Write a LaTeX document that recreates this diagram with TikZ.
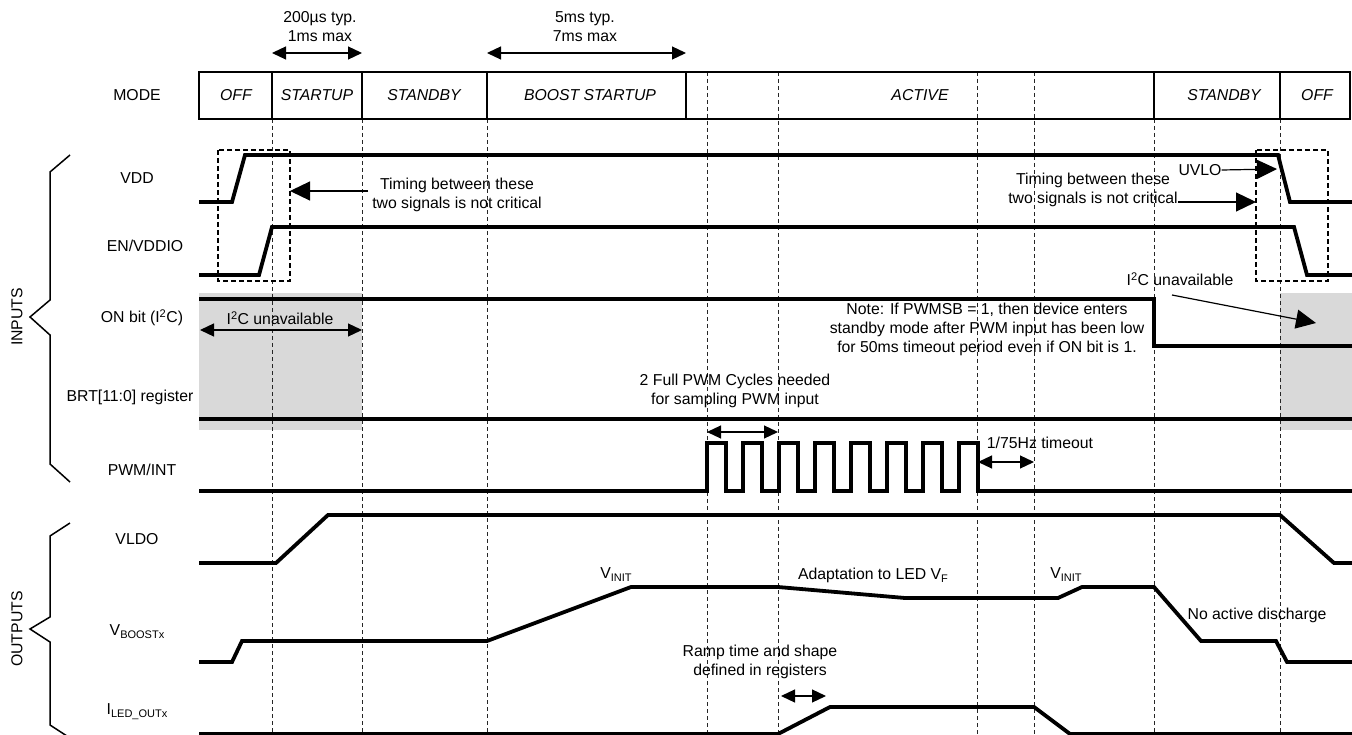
\documentclass[tikz,border=0pt]{standalone}
\usepackage{fontspec}
\setmainfont{Liberation Sans}
\usetikzlibrary{arrows.meta}
\definecolor{i2cgray}{RGB}{217,217,217}
\newcommand{\lowtext}[1]{\raisebox{-3pt}{\fontsize{11}{11}\selectfont #1}}
\tikzset{
  sig/.style={line width=3.8pt, line join=miter},
  grid/.style={line width=0.8pt, dash pattern=on 4pt off 3pt, black!85},
  modebox/.style={line width=2.5pt},
  dotbox/.style={line width=2.5pt, dash pattern=on 5pt off 3pt},
  brace/.style={line width=1.5pt},
  dim/.style={{Triangle[length=14pt,width=13pt]}-{Triangle[length=14pt,width=13pt]}, line width=1.2pt},
  callout/.style={-{Triangle[length=20pt,width=19pt]}, line width=1.2pt},
  lbl/.style={align=center, inner sep=0pt},
  modelbl/.style={inner sep=0pt, font=\fontsize{15.8}{19}\selectfont\itshape}
}
\begin{document}
\begin{tikzpicture}[x=1pt, y=-1pt, font=\fontsize{15.8}{19}\selectfont]
\useasboundingbox (0,0) rectangle (1352,735);
% I2C unavailable areas
\fill[i2cgray] (199,293) rectangle (362,430);
\fill[i2cgray] (1280,293) rectangle (1352,430);
% Time marks
\foreach \x in {272,362,487,1154,1280}
  \draw[grid] (\x,119) -- (\x,735);
\foreach \x in {707,778,977,1034}
  \draw[grid] (\x,72) -- (\x,735);
% Mode row
\draw[modebox] (199,72) rectangle (1350,119);
\foreach \x in {272,362,487,686,1154,1280}
  \draw[modebox] (\x,72) -- (\x,119);
\node[lbl] (mode) at (137,95) {MODE};
\node[modelbl] (off1) at (236,95) {OFF};
\node[modelbl] (startup) at (317,95) {STARTUP};
\node[modelbl] (standby1) at (424,95) {STANDBY};
\node[modelbl] (boost) at (590,95) {BOOST STARTUP};
\node[modelbl] (active) at (920,95) {ACTIVE};
\node[modelbl] (standby2) at (1224,95) {STANDBY};
\node[modelbl] (off2) at (1317,95) {OFF};
% Startup times
\node[lbl] (tstart) at (320,27) {200µs typ.\\1ms max};
\draw[dim] (272,53) -- (362,53);
\node[lbl] (tboost) at (585,27) {5ms typ.\\7ms max};
\draw[dim] (487,53) -- (686,53);
% Braces
\draw[brace] (70,155) -- (50,172) -- (50,300) -- (30,317) -- (50,335) -- (50,464) -- (70,482);
\node[lbl, rotate=90] (inputs) at (17,317) {INPUTS};
\draw[brace] (70,523) -- (50,536) -- (50,617) -- (30,629) -- (50,642) -- (50,725) -- (70,738);
\node[lbl, rotate=90] (outputs) at (17,629) {OUTPUTS};
% Signal names
\node[lbl] (vdd) at (137,178) {VDD};
\node[lbl] (envddio) at (145,246) {EN/VDDIO};
\node[lbl] (onbit) at (142,318) {ON bit (I\textsuperscript{2}C)};
\node[lbl] (brt) at (130,397) {BRT[11:0] register};
\node[lbl] (pwm) at (142,470) {PWM/INT};
\node[lbl] (vldo) at (137,539) {VLDO};
\node[lbl] (vboost) at (137,632) {V\lowtext{BOOSTx}};
\node[lbl] (iled) at (137,712) {I\lowtext{LED\_OUTx}};
% Inputs
\draw[sig] (199,202) -- (232,202) -- (245,155) -- (1278,155) -- (1290,202) -- (1352,202);
\draw[sig] (199,275) -- (259,275) -- (272,227) -- (1294,227) -- (1307,275) -- (1352,275);
\draw[sig] (199,299) -- (1154,299) -- (1154,346) -- (1352,346);
\draw[sig] (199,419) -- (1352,419);
\draw[sig] (199,491) -- (707,491)
  \foreach \t in {0,...,7} { -- ++(0,-48) -- ++(19,0) -- ++(0,48) -- ++(17,0) }
  -- (1352,491);
% Outputs
\draw[sig] (199,563) -- (276,563) -- (328,515) -- (1280,515) -- (1334,563) -- (1352,563);
\draw[sig] (199,662) -- (232,662) -- (242,641) -- (487,641) -- (631,587) -- (778,587)
  -- (905,598) -- (1058,598) -- (1082,587) -- (1154,587) -- (1201,641) -- (1276,641)
  -- (1287,662) -- (1352,662);
\draw[sig] (199,734) -- (778,734) -- (830,707) -- (1034,707) -- (1070,734) -- (1352,734);
% Timing boxes
\draw[dotbox] (218,150) rectangle (290,281);
\draw[dotbox] (1256,150) rectangle (1328,281);
% Notes
\node[lbl] (timing1) at (457,195) {Timing between these\\two signals is not critical};
\draw[callout] (368,191) -- (290,191);
\node[lbl] (timing2) at (1093,190) {Timing between these\\two signals is not critical};
\draw[callout] (1178,202) -- (1256,202);
\node[lbl] (uvlo) at (1200,170) {UVLO};
\draw[callout] (uvlo.east) -- (1277,169);
\node[lbl] (i2c1) at (280,318) {I\textsuperscript{2}C unavailable};
\draw[dim] (200,330) -- (362,330);
\node[lbl] (i2c2) at (1180,279) {I\textsuperscript{2}C unavailable};
\draw[callout] (1172,295) -- (1316,323);
\node[lbl] (note) at (987,329) {Note: If PWMSB = 1, then device enters\\standby mode after PWM input has been low\\for 50ms timeout period even if ON bit is 1.};
\node[lbl] (cycles) at (735,391) {2 Full PWM Cycles needed\\for sampling PWM input};
\draw[dim] (707,432) -- (778,432);
\node[lbl] (timeout) at (1040,443) {1/75Hz timeout};
\draw[dim] (978,462) -- (1034,462);
\node[lbl] (vinit1) at (616,575) {V\lowtext{INIT}};
\node[lbl] (adapt) at (873,575) {Adaptation to LED V\lowtext{F}};
\node[lbl] (vinit2) at (1066,575) {V\lowtext{INIT}};
\node[lbl] (nodis) at (1257,615) {No active discharge};
\node[lbl] (ramp) at (760,662) {Ramp time and shape\\defined in registers};
\draw[dim] (781,696) -- (826,696);
\end{tikzpicture}
\end{document}
